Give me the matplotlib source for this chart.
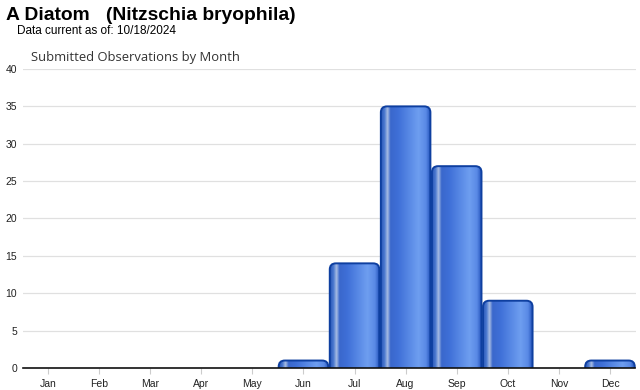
import numpy as np
import matplotlib
matplotlib.use("Agg")
import matplotlib.pyplot as plt
from matplotlib.patches import FancyBboxPatch
from matplotlib.colors import LinearSegmentedColormap

# data
months = ['Jan', 'Feb', 'Mar', 'Apr', 'May', 'Jun', 'Jul', 'Aug', 'Sep', 'Oct', 'Nov', 'Dec']
counts = [0, 0, 0, 0, 0, 1, 14, 35, 27, 9, 0, 1]
yticks = [0, 5, 10, 15, 20, 25, 30, 35, 40]

plt.rcParams['font.family'] = ['Liberation Sans', 'DejaVu Sans']

# horizontal shine across each bar
shine = LinearSegmentedColormap.from_list('shine', [
    (0.0, '#2a58b8'), (0.07, '#4a78d0'), (0.13, '#a9bde3'), (0.19, '#3a68cc'),
    (0.35, '#3f70d8'), (0.75, '#6e9ef0'), (0.9, '#5a8ae6'), (1.0, '#2050b8')])
grad = np.linspace(0, 1, 256).reshape(1, -1)

fig = plt.figure(figsize=(6.4, 3.9), dpi=100)
W, H = 640, 390
ax = fig.add_axes([22.5 / W, (H - 368) / H, 613 / W, 299 / H])

x = np.arange(len(months))
width = 0.97
for xi, c in zip(x, counts):
    if c == 0:
        continue
    x0 = xi - width / 2
    # extend below zero so the bottom corners get clipped away
    patch = FancyBboxPatch((x0, -1), width, c + 1,
                           boxstyle="round,pad=0,rounding_size=0.12",
                           mutation_aspect=6.8,
                           facecolor='none', edgecolor='#0e3fa0', linewidth=1.4, zorder=3)
    ax.add_patch(patch)
    im = ax.imshow(grad, cmap=shine, extent=(x0, x0 + width, -1, c),
                   aspect='auto', zorder=2, interpolation='bilinear')
    im.set_clip_path(patch)

ax.set_xlim(-0.5, len(months) - 0.5)
ax.set_ylim(0, 40)
ax.set_xticks(x)
ax.set_xticklabels(months, fontsize=7.5, color='#222222')
ax.set_yticks(yticks)
ax.set_yticklabels([str(v) for v in yticks], fontsize=7.5, color='#222222')
ax.grid(axis='y', color='#e0e0e0', linewidth=0.9, zorder=0)
ax.set_axisbelow(True)
for s in ['top', 'right', 'left']:
    ax.spines[s].set_visible(False)
ax.spines['bottom'].set_color('#111111')
ax.spines['bottom'].set_linewidth(1.2)
ax.spines['bottom'].set_zorder(4)
ax.tick_params(axis='y', length=0, pad=4)
ax.tick_params(axis='x', length=4, color='#cccccc', pad=4)

fig.text(6 / W, 1 - 15 / H, 'A Diatom   (Nitzschia bryophila)', fontsize=13.9,
         fontweight='bold', va='center', ha='left')
fig.text(17 / W, 1 - 31 / H, 'Data current as of: 10/18/2024', fontsize=8.5,
         va='center', ha='left')
fig.text(31 / W, 1 - 58 / H, 'Submitted Observations by Month', fontsize=9.4,
         color='#333333', va='center', ha='left', family=['Open Sans', 'DejaVu Sans'])

fig.savefig('out.png', dpi=100)
